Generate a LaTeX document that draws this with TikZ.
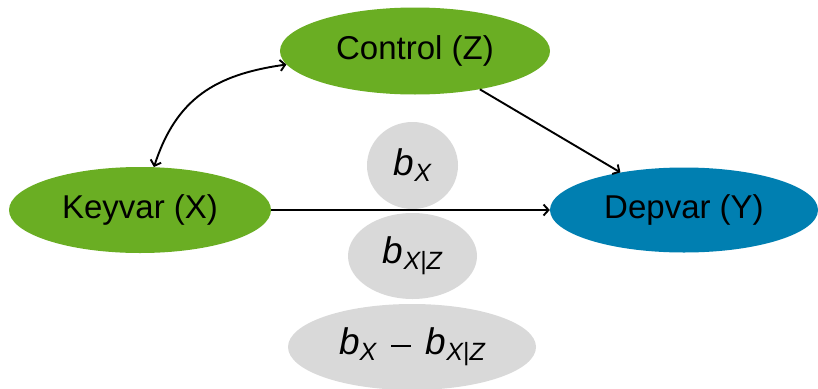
\documentclass[tikz,border=0pt]{standalone}
\usepackage{fontspec}
\setmainfont{Liberation Sans}
\usetikzlibrary{shapes.geometric,arrows.meta}
\definecolor{leafgreen}{RGB}{106,174,35}
\definecolor{oceanblue}{RGB}{0,127,177}
\definecolor{softgray}{RGB}{217,217,217}
% italic coefficient with a lowered subscript
\newcommand\coef[1]{{\itshape b}\raisebox{-6pt}{\fontsize{25}{29}\selectfont\itshape #1}}
\newcommand\coefminus{\hspace{0.4em}\rule[0.22em]{0.54em}{0.05em}\hspace{0.4em}}
\tikzset{
  varnode/.style={ellipse, draw=none, inner sep=0pt, font=\fontsize{33}{38}\selectfont},
  coefnode/.style={ellipse, fill=softgray, draw=none, inner sep=0pt, font=\fontsize{37}{42}\selectfont},
  barb/.tip={Straight Barb[length=5pt,width=11pt,line width=1.9pt]},
  link/.style={-barb, line width=1.9pt},
  bilink/.style={barb-barb, line width=1.9pt},
}
\begin{document}
\begin{tikzpicture}[x=1pt, y=-1pt]
  \useasboundingbox (0,0) rectangle (818,388);
  % variables
  \node[varnode, fill=leafgreen, minimum width=270pt, minimum height=87pt] (ctl) at (415,51) {Control (Z)};
  \node[varnode, fill=leafgreen, minimum width=262pt, minimum height=86pt] (key) at (140,210) {Keyvar (X)};
  \node[varnode, fill=oceanblue, minimum width=268pt, minimum height=85pt] (dep) at (684,210) {Depvar (Y)};
  % coefficient bubbles
  \node[coefnode, minimum width=91pt, minimum height=87pt] (bx) at (412.5,165.5) {\coef{X}};
  \node[coefnode, minimum width=129pt, minimum height=86pt] (bxz) at (412.5,256) {\coef{X{\upshape|}Z}};
  \node[coefnode, minimum width=248pt, minimum height=86pt] (diff) at (412,347) {\coef{X}\coefminus\coef{X{\upshape|}Z}};
  % arrows
  \draw[link] (key) -- (dep);
  \draw[link] (ctl) -- (dep);
  \draw[bilink] (key.72) to[out=72, in=188, looseness=1.1] (ctl.186);
\end{tikzpicture}
\end{document}
